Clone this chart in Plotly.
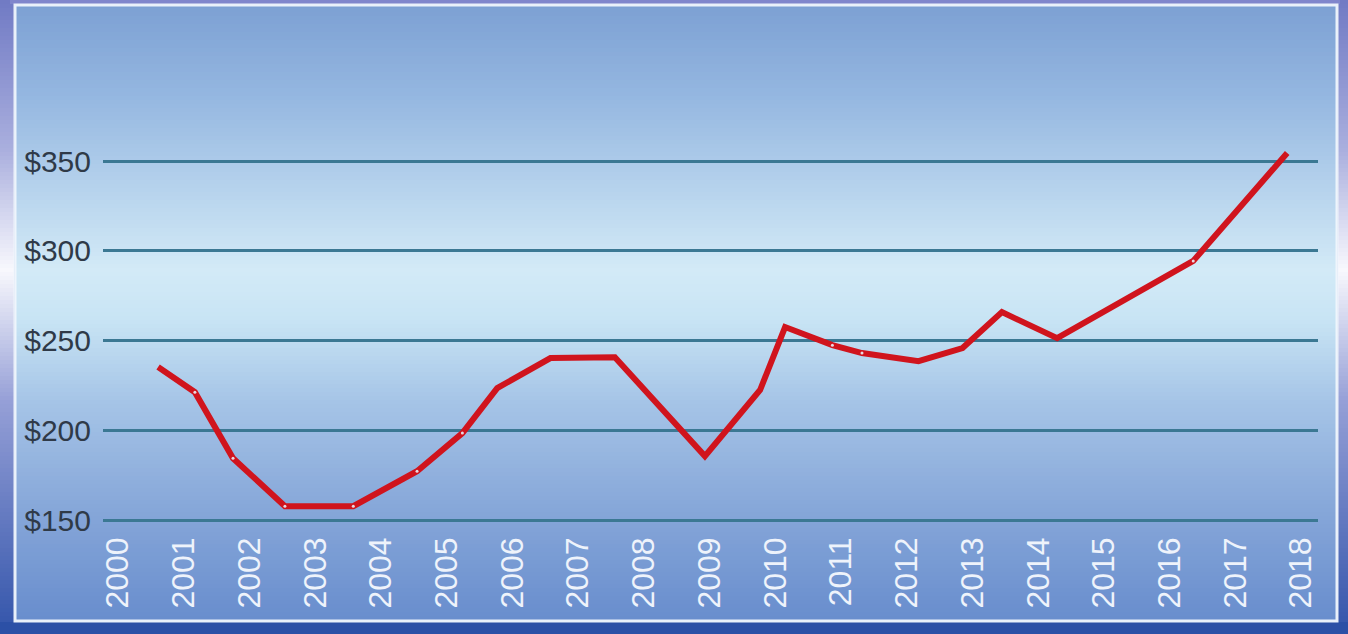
import plotly.graph_objects as go

# ---- data ----
years = [2000.61, 2001.17, 2001.75, 2002.54, 2003.58, 2004.55, 2005.24, 2005.77,
         2006.58, 2007.56, 2008.93, 2009.77, 2010.15, 2010.87, 2011.32, 2012.18,
         2012.85, 2013.45, 2014.29, 2016.36, 2017.79]
prices = [235.2, 221.2, 184.4, 157.7, 157.7, 177.2, 198.4, 223.5,
          240.2, 240.7, 185.6, 222.4, 257.5, 247.4, 243.0, 238.5,
          245.8, 265.8, 251.3, 294.3, 354.5]
gap_marks = [0, 1, 1, 1, 1, 1, 1, 0, 0, 0, 0, 0, 0, 1, 1, 0, 0, 0, 0, 1, 0]
x_ticks = list(range(2000, 2019))
x_labels = [str(y) for y in x_ticks]
y_ticks = [150, 200, 250, 300, 350]
y_labels = ["$150", "$200", "$250", "$300", "$350"]

W, H = 1348, 634
PL, PR, PT, PB = 103, 1318, 40, 525  # plot area in px


def px2x(px):
    return (px - PL) / (PR - PL)


def px2y(py):
    return (PB - py) / (PB - PT)


def lerp_stops(stops, v):
    for (a, ca), (b, cb) in zip(stops, stops[1:]):
        if a <= v <= b:
            t = (v - a) / (b - a) if b > a else 0
            return tuple(round(ca[i] + (cb[i] - ca[i]) * t) for i in range(3))
    return stops[0][1] if v < stops[0][0] else stops[-1][1]


shapes = []
# outer frame gradient (sides)
side_stops = [(0, (112, 122, 196)), (150, (170, 175, 222)), (270, (248, 248, 253)),
              (400, (150, 160, 215)), (634, (50, 84, 170))]
step = 4
for y0 in range(0, H, step):
    c = lerp_stops(side_stops, y0 + step / 2)
    col = "rgb(%d,%d,%d)" % c
    for xa, xb in [(-5, 14), (1338, W + 5)]:
        shapes.append(dict(type="rect", xref="paper", yref="paper", layer="below",
                           x0=px2x(xa), x1=px2x(xb), y0=px2y(y0 + step + 2), y1=px2y(y0),
                           line=dict(width=0), fillcolor=col))
# top strip / bottom strip
shapes.append(dict(type="rect", xref="paper", yref="paper", layer="below",
                   x0=px2x(10), x1=px2x(1340), y0=px2y(4), y1=px2y(-5),
                   line=dict(width=0), fillcolor="rgb(128,134,204)"))
shapes.append(dict(type="rect", xref="paper", yref="paper", layer="below",
                   x0=px2x(-5), x1=px2x(W + 5), y0=px2y(H + 5), y1=px2y(622),
                   line=dict(width=0), fillcolor="rgb(44,80,166)"))

# inner panel gradient
panel_stops = [(4, (124, 160, 211)), (100, (150, 184, 225)), (200, (186, 214, 238)),
               (270, (211, 234, 247)), (320, (200, 228, 244)), (400, (166, 197, 231)),
               (500, (137, 169, 218)), (621, (104, 141, 205))]
step = 4
for y0 in range(4, 622, step):
    c = lerp_stops(panel_stops, y0 + step / 2)
    shapes.append(dict(type="rect", xref="paper", yref="paper", layer="below",
                       x0=px2x(15), x1=px2x(1337), y0=px2y(min(y0 + step + 2, 622)), y1=px2y(y0),
                       line=dict(width=0), fillcolor="rgb(%d,%d,%d)" % c))
# white inner frame
shapes.append(dict(type="rect", xref="paper", yref="paper", layer="below",
                   x0=px2x(15), x1=px2x(1337), y0=px2y(621), y1=px2y(5),
                   line=dict(width=3, color="rgba(240,246,252,0.95)"),
                   fillcolor="rgba(0,0,0,0)"))

fig = go.Figure()
fig.add_trace(go.Scatter(
    x=years, y=prices, mode="lines",
    line=dict(color="#d0141d", width=6),
    hoverinfo="skip", showlegend=False))
fig.add_trace(go.Scatter(
    x=[x for x, g in zip(years, gap_marks) if g],
    y=[y for y, g in zip(prices, gap_marks) if g],
    mode="markers",
    marker=dict(color="rgba(235,240,248,0.9)", size=3, line=dict(width=0)),
    hoverinfo="skip", showlegend=False))

sp = (1301 - 118) / 18.0
x0 = 2000 - (118 - PL) / sp
x1 = 2018 + (PR - 1301) / sp
ppu = (520 - 161) / 200.0
y_top = 350 + (161 - PT) / ppu
y_bot = 150 - (PB - 520) / ppu

FONT = "Liberation Sans, Arial, sans-serif"
fig.update_layout(
    width=W, height=H,
    margin=dict(l=PL, r=W - PR, t=PT, b=H - PB, pad=0, autoexpand=False),
    paper_bgcolor="rgb(90,110,190)",
    plot_bgcolor="rgba(0,0,0,0)",
    shapes=shapes,
    hovermode=False,
    xaxis=dict(range=[x0, x1], tickvals=x_ticks, ticktext=x_labels, tickangle=-90,
               showgrid=False, zeroline=False, showline=False, ticks="",
               ticklabelstandoff=5, automargin=False,
               tickfont=dict(family=FONT, size=32, color="#eef3fb")),
    yaxis=dict(range=[y_bot, y_top], tickvals=y_ticks, ticktext=y_labels,
               showgrid=True, gridcolor="#3b7893", gridwidth=2.5,
               zeroline=False, showline=False, ticks="", ticklabelstandoff=11,
               automargin=False,
               tickfont=dict(family=FONT, size=30, color="#2f3a48")),
)

fig.write_html("out.html", config={"displayModeBar": False},
               post_script="document.body.style.margin='0';document.body.style.overflow='hidden';")
